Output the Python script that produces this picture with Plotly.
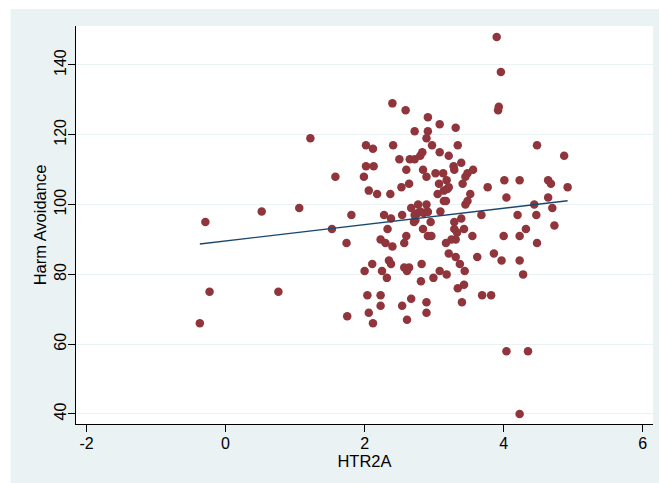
import plotly.graph_objects as go

# HTR2A (x) and Harm Avoidance (y) values
htr2a = [
    -0.37, -0.23, -0.29, 0.52, 0.76, 1.06, 1.22, 1.53, 1.58, 1.74, 1.75, 1.81,
    1.99, 2.02, 2.13, 2.02, 2.12, 2.06, 2.18, 2.00, 2.11, 2.04, 2.06, 2.12,
    2.23, 2.23, 2.25, 2.23, 2.28, 2.30, 2.33, 2.40, 2.35, 2.38, 2.32, 2.38,
    2.37, 2.41, 2.40, 2.50, 2.53, 2.54, 2.57, 2.60, 2.57, 2.64, 2.61, 2.54,
    2.67, 2.61, 2.59, 2.60, 2.64, 2.65, 2.72, 2.72, 2.67, 2.72, 2.73, 2.71,
    2.77, 2.80, 2.76, 2.82, 2.81, 2.80, 2.83, 2.84, 2.84, 2.85, 2.89, 2.90,
    2.91, 2.89, 2.89, 2.91, 2.91, 2.91, 2.96, 2.95, 2.89, 2.89, 2.99, 2.97,
    3.02, 3.05, 3.07, 3.08, 3.08, 3.09, 3.08, 3.13, 3.14, 3.17, 3.18, 3.19,
    3.17, 3.18, 3.21, 3.21, 3.14, 3.25, 3.28, 3.29, 3.29, 3.29, 3.31, 3.31,
    3.31, 3.33, 3.34, 3.34, 3.37, 3.39, 3.39, 3.40, 3.41, 3.43, 3.43, 3.44,
    3.45, 3.45, 3.48, 3.48, 3.52, 3.55, 3.56, 3.62, 3.68, 3.69, 3.77, 3.82,
    3.86, 3.90, 3.96, 3.93, 3.92, 3.97, 4.00, 4.01, 4.04, 4.04, 4.20, 4.23,
    4.23, 4.23, 4.23, 4.28, 4.32, 4.35, 4.44, 4.47, 4.48, 4.48, 4.64, 4.68,
    4.64, 4.70, 4.73, 4.87, 4.92, 3.21,
]
harm_avoidance = [
    66, 75, 95, 98, 75, 99, 119, 93, 108, 89, 68, 97,
    108, 111, 111, 117, 116, 104, 103, 81, 83, 74, 69, 66,
    74, 71, 81, 90, 97, 89, 93, 88, 84, 83, 79, 96,
    103, 117, 129, 113, 105, 97, 89, 91, 82, 82, 81, 71,
    73, 67, 127, 110, 106, 113, 113, 121, 99, 97, 95.5, 95,
    100, 98, 97.5, 83, 78, 114, 115, 110, 93, 97.6, 100, 98,
    97.9, 108, 119, 121, 125, 91, 91, 95, 72, 69, 79, 117,
    109, 103, 106, 115, 123, 98, 81, 109, 101, 101, 107, 104.5,
    89, 80, 86, 114, 104, 90, 111, 110, 95, 93, 122, 90,
    85, 92, 117, 76, 83, 96, 112, 72, 106, 93, 77, 81,
    108, 100, 109, 101, 103, 91, 110, 85, 97, 74, 105, 74,
    86, 148, 138, 128, 127, 84, 91, 107, 102, 58, 97, 107,
    91, 84, 40, 80, 93, 58, 100, 97, 117, 89, 107, 106,
    102, 99, 94, 114, 105, 105,
]

# Fitted line endpoints
fit_x = [-0.37, 4.92]
fit_y = [88.7, 101.1]

x_ticks = [-2, 0, 2, 4, 6]
y_ticks = [40, 60, 80, 100, 120, 140]

BG = "#EAF2F3"
FONT = "Liberation Sans, Arial, Helvetica, sans-serif"

fig = go.Figure()
fig.add_trace(go.Scatter(
    x=htr2a, y=harm_avoidance, mode="markers",
    marker=dict(size=8.5, color="#90353B", line=dict(width=0)),
    showlegend=False, hoverinfo="skip",
))
fig.add_trace(go.Scatter(
    x=fit_x, y=fit_y, mode="lines",
    line=dict(color="#1A476F", width=1.3),
    showlegend=False, hoverinfo="skip",
))

W, H = 659, 483
L, R, T, B = 75.5, 6, 26, 59
pw = W - L - R
ph = H - T - B

def px2x(p):
    return (p - L) / pw

def py2y(p):
    return 1 - (p - T) / ph

shapes = [
    dict(type="rect", xref="paper", yref="paper",
         x0=px2x(-2), x1=px2x(10), y0=py2y(H + 2), y1=py2y(-2),
         fillcolor="white", line=dict(width=0), layer="above"),
    dict(type="rect", xref="paper", yref="paper",
         x0=px2x(-2), x1=px2x(W + 2), y0=py2y(9), y1=py2y(-2),
         fillcolor="white", line=dict(width=0), layer="above"),
]

fig.update_layout(
    width=W, height=H,
    margin=dict(l=L, r=R, t=T, b=B, pad=0),
    paper_bgcolor=BG,
    plot_bgcolor="white",
    font=dict(family=FONT, size=16, color="black"),
    shapes=shapes,
    xaxis=dict(
        range=[-2.151, 6.148],
        tickvals=x_ticks,
        ticktext=[str(v) for v in x_ticks],
        ticks="outside", ticklen=7, tickwidth=1, tickcolor="black",
        showline=True, linecolor="black", linewidth=1,
        showgrid=False, zeroline=False,
        tickfont=dict(size=16),
        ticklabelstandoff=-2,
        title=dict(text="HTR2A", font=dict(size=16.5), standoff=2),
        automargin=False,
    ),
    yaxis=dict(
        range=[37.13, 151.17],
        tickvals=y_ticks,
        ticktext=[str(v) for v in y_ticks],
        tickangle=-90,
        ticks="outside", ticklen=7, tickwidth=1, tickcolor="black",
        showline=True, linecolor="black", linewidth=1,
        showgrid=True, gridcolor=BG, gridwidth=1.2,
        zeroline=False,
        tickfont=dict(size=16),
        ticklabelstandoff=-4,
        title=dict(text="Harm Avoidance", font=dict(size=16.5), standoff=0),
        automargin=False,
    ),
)

fig.write_html("out.html")
